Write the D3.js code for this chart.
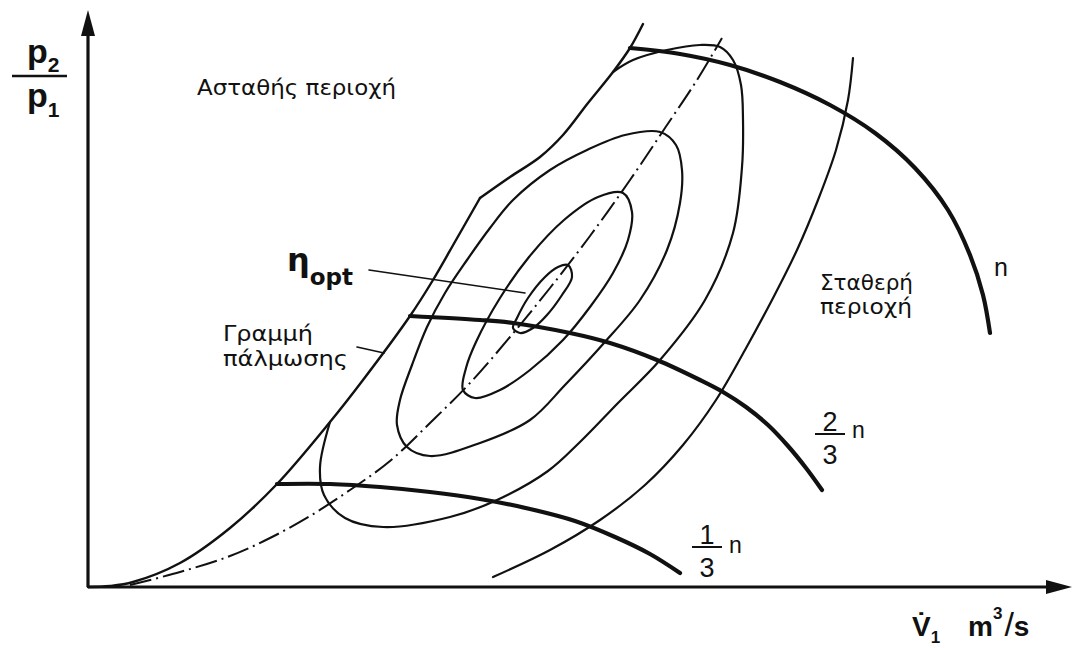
<!DOCTYPE html>
<html>
<head>
<meta charset="utf-8">
<script src="https://cdn.jsdelivr.net/npm/d3@7"></script>
<style>
  html, body { margin: 0; padding: 0; background: #fff; }
  svg { display: block; }
  text { fill: #111; }
</style>
</head>
<body>
<svg id="chart" width="1075" height="648"></svg>
<script>
// Compressor characteristic map: pressure ratio p2/p1 versus volume flow V1.
// Units are relative (no numeric ticks on the axes).

// Surge line (boundary of the unstable region); it has a corner at index surgeKink
const surgeLine = [
  [0, 0], [2.2, 0.1], [4.5, 0.5], [9.2, 2.4], [14.2, 5.9], [18.9, 10.3], [24.2, 16.5],
  [27.5, 20.7], [32.2, 27.1], [34.5, 30.7], [36.8, 34.7], [39.2, 38.9],
  [42.2, 41.0], [45.2, 43.0], [47.5, 45.2], [50.0, 48.4], [52.5, 51.5], [54.2, 53.9], [55.5, 56.3]
];
const surgeKink = 11;

// Constant speed lines
const speedFull = [
  [54.2, 53.9], [59.2, 53.3], [64.2, 52.2], [69.2, 50.5], [74.2, 48.2], [78.7, 45.4],
  [82.7, 41.9], [86.0, 37.7], [88.2, 33.2], [89.5, 29.2], [90.2, 25.4]
];
const speedTwoThirds = [
  [32.2, 27.1], [39.2, 26.7], [42.5, 26.4], [48.2, 25.4], [52.2, 24.4], [56.9, 22.7],
  [61.2, 20.7], [63.5, 19.5], [65.8, 18.0], [68.0, 16.2], [70.0, 14.1], [71.8, 11.9], [73.4, 9.7]
];
const speedOneThird = [
  [18.9, 10.3], [24.2, 10.3], [29.2, 10.0], [34.2, 9.5], [39.2, 8.8], [44.2, 7.8],
  [48.7, 6.6], [52.7, 5.0], [56.2, 3.3], [59.2, 1.4]
];

// Line of optimum efficiency (dash-dot)
const optimumLine = [
  [4.2, 0.2], [9.2, 1.5], [14.2, 3.1], [18.2, 4.9], [22.2, 7.1], [26.2, 9.7],
  [30.2, 12.6], [34.2, 16.4], [38.2, 20.4], [42.2, 25.0], [46.2, 29.9], [50.2, 35.1],
  [54.2, 40.7], [57.7, 45.9], [60.9, 50.7], [63.4, 54.9]
];

// Efficiency contours, innermost first (closed loops)
const effInner = [
  [48.0, 32.2], [48.4, 31.0], [47.4, 29.2], [45.9, 27.2], [44.5, 25.9], [43.2, 25.4],
  [42.5, 25.9], [42.9, 26.9], [44.0, 28.9], [45.7, 31.0], [47.0, 32.0]
];
const effSecond = [
  [53.5, 39.4], [54.4, 37.5], [54.0, 34.7], [52.5, 31.4], [50.2, 28.0], [47.5, 24.7],
  [44.2, 21.7], [41.2, 19.7], [38.7, 18.9], [37.5, 19.7], [37.8, 21.9], [38.8, 24.5],
  [41.2, 28.9], [44.1, 33.0], [47.6, 36.7], [51.0, 39.0]
];
const effThird = [
  [53.7, 45.2], [57.2, 45.5], [58.8, 44.2], [59.4, 41.7], [59.2, 38.4], [57.9, 33.7],
  [55.2, 28.7], [51.6, 24.4], [47.7, 20.2], [44.2, 16.7], [39.2, 14.4], [34.2, 13.1],
  [31.9, 14.0], [30.9, 16.2], [31.2, 18.7], [32.4, 22.2], [33.9, 26.0], [35.7, 29.4],
  [37.9, 32.7], [40.2, 35.9], [42.5, 38.7], [46.2, 41.7], [49.9, 43.7]
];
// Contour cut off by the surge line (both ends lie on the surge line)
const effFourth = [
  [52.5, 51.5], [54.5, 52.7], [57.9, 53.7], [61.2, 54.2], [63.2, 54.0], [64.5, 52.7],
  [65.3, 50.2], [65.5, 46.7], [65.4, 42.0], [64.5, 35.4], [61.7, 28.7], [57.2, 22.7],
  [53.0, 18.4], [49.2, 14.5], [46.0, 11.6], [40.9, 8.7], [36.2, 7.0], [29.5, 6.0],
  [25.7, 6.9], [23.6, 9.2], [23.2, 12.0], [24.2, 16.5]
];
// Outermost contour (open arc)
const effFifth = [
  [76.5, 52.9], [76.0, 48.7], [74.8, 43.7], [73.0, 38.7], [70.9, 33.7], [68.4, 28.7],
  [65.7, 23.7], [62.8, 18.7], [59.5, 14.2], [55.7, 10.2], [51.2, 6.7], [46.2, 3.7], [40.5, 1.0]
];

// Leader lines for annotations
const leaderOpt = [[28.1, 31.7], [43.7, 29.4]];
const leaderSurge = [[26.9, 24.0], [29.6, 23.4]];

const svg = d3.select("#chart");

const x = d3.scaleLinear().domain([0, 98.4]).range([88, 1072]);
const y = d3.scaleLinear().domain([0, 57.7]).range([587, 10]);

const lineOpen = d3.line().x(d => x(d[0])).y(d => y(d[1])).curve(d3.curveCatmullRom.alpha(0.5));
const lineClosed = d3.line().x(d => x(d[0])).y(d => y(d[1])).curve(d3.curveCatmullRomClosed.alpha(0.5));
const lineStraight = d3.line().x(d => x(d[0])).y(d => y(d[1]));

const g = svg.append("g").attr("fill", "none").attr("stroke", "#111")
  .attr("stroke-linecap", "round").attr("stroke-linejoin", "round");

// efficiency contours
[effInner, effSecond, effThird].forEach(c => {
  g.append("path").attr("d", lineClosed(c)).attr("stroke-width", 2.2);
});
[effFourth, effFifth].forEach(c => {
  g.append("path").attr("d", lineOpen(c)).attr("stroke-width", 2.2);
});

// optimum efficiency line
g.append("path").attr("d", lineOpen(optimumLine))
  .attr("stroke-width", 2)
  .attr("stroke-linecap", "butt")
  .attr("stroke-dasharray", "22 5 2 5");

// surge line, drawn in two pieces so the corner stays sharp
g.append("path").attr("d", lineOpen(surgeLine.slice(0, surgeKink + 1))).attr("stroke-width", 2.4);
g.append("path").attr("d", lineOpen(surgeLine.slice(surgeKink))).attr("stroke-width", 2.4);

// speed lines
[speedFull, speedTwoThirds, speedOneThird].forEach(c => {
  g.append("path").attr("d", lineOpen(c)).attr("stroke-width", 4.2);
});

// leaders
g.append("path").attr("d", lineStraight(leaderOpt)).attr("stroke-width", 1.6);
g.append("path").attr("d", lineStraight(leaderSurge)).attr("stroke-width", 1.6);

// axes with arrowheads
const [x0, x1] = x.range();
const [y0, y1] = y.range();
const axes = svg.append("g").attr("fill", "#111").attr("stroke", "#111");
axes.append("line").attr("x1", x0).attr("y1", y0).attr("x2", x1 - 20).attr("y2", y0)
  .attr("stroke-width", 3.2);
axes.append("line").attr("x1", x0).attr("y1", y0).attr("x2", x0).attr("y2", y1 + 20)
  .attr("stroke-width", 3.2);
axes.append("path").attr("stroke", "none")
  .attr("d", `M${x1},${y0} L${x1 - 26},${y0 - 7} L${x1 - 26},${y0 + 7} Z`);
axes.append("path").attr("stroke", "none")
  .attr("d", `M${x0},${y1} L${x0 - 7},${y1 + 26} L${x0 + 7},${y1 + 26} Z`);

// ---- labels ----
const greek = "'DejaVu Sans', sans-serif";
const latin = "'Liberation Sans', Arial, sans-serif";

function txt(xp, yp, s, size, opts = {}) {
  const t = svg.append("text")
    .attr("x", xp).attr("y", yp)
    .attr("font-family", opts.family || greek)
    .attr("font-size", size)
    .attr("font-weight", opts.weight || "normal")
    .attr("text-anchor", opts.anchor || "start")
    .text(s);
  if (opts.width) t.attr("textLength", opts.width).attr("lengthAdjust", "spacingAndGlyphs");
  return t;
}

// y-axis label p2/p1
const yl = svg.append("text").attr("font-family", latin).attr("font-weight", "bold");
yl.append("tspan").attr("x", 27).attr("y", 63).attr("font-size", 34).text("p");
yl.append("tspan").attr("dy", 9).attr("font-size", 21).text("2");
const yl2 = svg.append("text").attr("font-family", latin).attr("font-weight", "bold");
yl2.append("tspan").attr("x", 27).attr("y", 107).attr("font-size", 34).text("p");
yl2.append("tspan").attr("dy", 10).attr("font-size", 21).text("1");
svg.append("line").attr("x1", 12).attr("x2", 67).attr("y1", 76).attr("y2", 76)
  .attr("stroke", "#111").attr("stroke-width", 2.4);

// x-axis label V1 m3/s
const xl = svg.append("text").attr("font-family", latin).attr("font-weight", "bold");
xl.append("tspan").attr("x", 912).attr("y", 636).attr("font-size", 28).text("V\u0307");
xl.append("tspan").attr("dy", 7).attr("font-size", 17).text("1");
xl.append("tspan").attr("x", 968).attr("y", 636).attr("font-size", 28).text("m");
xl.append("tspan").attr("dy", -17).attr("font-size", 17).text("3");
xl.append("tspan").attr("dy", 17).attr("dx", 2).attr("font-size", 34).attr("font-weight", "normal").text("/");
xl.append("tspan").attr("font-size", 28).text("s");

// region labels
txt(197, 95, "Ασταθής περιοχή", 22, { width: 199 });
txt(820, 290, "Σταθερή", 22, { width: 93 });
txt(820, 314, "περιοχή", 22, { width: 92 });
txt(223, 341, "Γραμμή", 22, { width: 90 });
txt(223, 366, "πάλμωσης", 22, { width: 125 });

// eta_opt
const eta = svg.append("text").attr("font-family", greek).attr("font-weight", "bold");
eta.append("tspan").attr("x", 287).attr("y", 271).attr("font-size", 32).text("η");
eta.append("tspan").attr("dy", 14).attr("font-size", 23).text("opt");

// speed labels
txt(994, 276, "n", 25, { family: latin });

function fracLabel(cx, lineY, nx, ny, num) {
  txt(cx, lineY - 3, num, 27, { family: latin, anchor: "middle" });
  txt(cx, lineY + 30, "3", 27, { family: latin, anchor: "middle" });
  svg.append("line").attr("x1", cx - 15).attr("x2", cx + 15)
    .attr("y1", lineY).attr("y2", lineY).attr("stroke", "#111").attr("stroke-width", 2);
  txt(nx, ny, "n", 23, { family: latin });
}
fracLabel(830, 434, 852, 438, "2");
fracLabel(707, 547, 729, 553, "1");
</script>
</body>
</html>
